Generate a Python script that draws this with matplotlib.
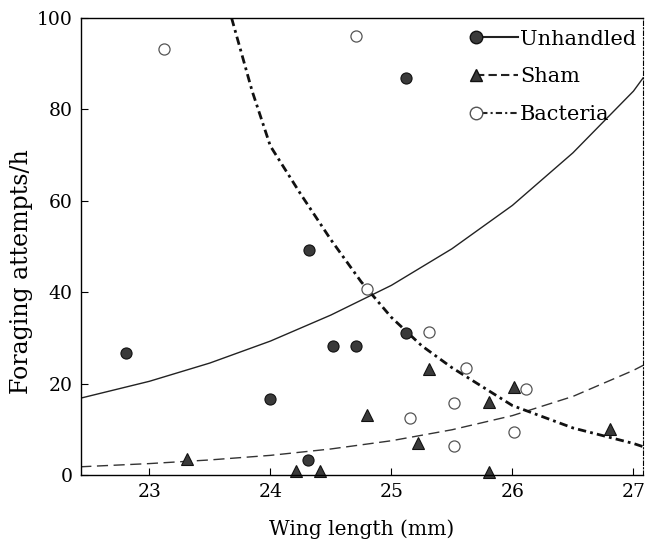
import matplotlib
matplotlib.use("Agg")
import matplotlib.pyplot as plt
from matplotlib.legend_handler import HandlerLine2D

# Observed foraging attempts per hour against wing length (mm)
unhandled_x = [22.81, 24.00, 24.32, 24.31, 24.52, 24.71, 25.12, 25.12]
unhandled_y = [26.8, 16.7, 49.3, 3.3, 28.2, 28.2, 31.0, 86.9]

sham_x = [23.31, 24.21, 24.41, 24.80, 25.22, 25.31, 25.81, 25.81, 26.01, 26.81]
sham_y = [3.6, 0.9, 0.9, 13.1, 7.1, 23.1, 16.0, 0.7, 19.2, 10.1]

bacteria_x = [23.12, 24.71, 24.80, 25.15, 25.31, 25.52, 25.52, 25.62, 26.01, 26.11]
bacteria_y = [93.2, 96.1, 40.6, 12.5, 31.2, 15.7, 6.4, 23.4, 9.5, 18.8]

# Fitted response curves, sampled along wing length
fit_x = [22.43, 23.0, 23.5, 24.0, 24.5, 25.0, 25.5, 26.0, 26.5, 27.0, 27.08]
unhandled_fit = [16.8, 20.5, 24.5, 29.3, 35.0, 41.5, 49.5, 59.0, 70.5, 84.0, 86.9]
sham_fit = [1.8, 2.5, 3.3, 4.3, 5.7, 7.5, 9.9, 13.0, 17.2, 22.9, 24.0]

bacteria_fit_x = [23.68, 23.85, 24.0, 24.25, 24.5, 24.75, 25.0, 25.25,
                  25.5, 26.0, 26.5, 27.0, 27.08]
bacteria_fit = [100.0, 84.0, 72.0, 61.5, 51.5, 42.3, 34.5, 28.3,
                23.5, 15.2, 10.3, 6.9, 6.2]

x_ticks = [23, 24, 25, 26, 27]
y_ticks = [0, 20, 40, 60, 80, 100]


class MarkerFirstHandler(HandlerLine2D):
    """Legend handle with the marker sitting at the left end of the line."""

    def create_artists(self, legend, orig_handle, xdescent, ydescent,
                       width, height, fontsize, trans):
        artists = super().create_artists(legend, orig_handle, xdescent,
                                         ydescent, width, height,
                                         fontsize, trans)
        artists[0].set_markevery([0])
        return artists


plt.rcParams['font.family'] = ['DejaVu Serif']
plt.rcParams['font.size'] = 13

fig = plt.figure(figsize=(6.46, 5.39), dpi=100)
ax = fig.add_axes([0.1254, 0.1187, 0.8696, 0.8479])

dark = '#3a3a3a'

ax.plot(fit_x, unhandled_fit, color='#222222', lw=1.0)
ax.plot(fit_x, sham_fit, color='#333333', lw=1.0, linestyle=(0, (8, 4)))
ax.plot(bacteria_fit_x, bacteria_fit, color='#111111', lw=2.0,
        linestyle=(0, (3, 1.5, 1, 1.5)))

ax.plot(unhandled_x, unhandled_y, 'o', ms=8, mfc=dark, mec='#111111',
        mew=0.8, clip_on=False)
ax.plot(sham_x, sham_y, '^', ms=8, mfc=dark, mec='#111111', mew=0.8,
        clip_on=False)
ax.plot(bacteria_x, bacteria_y, 'o', ms=8, mfc='white', mec='#555555',
        mew=0.9, clip_on=False)

# legend handles: marker followed by its fitted-line style
h_u = plt.Line2D([], [], color='#222222', lw=1.5, marker='o', ms=9,
                 mfc=dark, mec='#111111')
h_s = plt.Line2D([], [], color='#222222', lw=1.5, linestyle=(0, (4, 2)),
                 marker='^', ms=9, mfc=dark, mec='#111111')
h_b = plt.Line2D([], [], color='#222222', lw=1.5,
                 linestyle=(0, (1, 1.5, 3, 1.5)), marker='o', ms=9,
                 mfc='white', mec='#555555')
ax.legend([h_u, h_s, h_b], ['Unhandled', 'Sham', 'Bacteria'],
          loc='upper right', bbox_to_anchor=(1.003, 0.993), frameon=False,
          fontsize=15, handlelength=2.0, handletextpad=0.1,
          labelspacing=0.9, borderaxespad=0.0,
          handler_map={plt.Line2D: MarkerFirstHandler(numpoints=1)})

ax.set_xlim(22.436, 27.077)
ax.set_ylim(0, 100)
ax.set_xticks(x_ticks)
ax.set_yticks(y_ticks)
ax.tick_params(direction='in', length=5, width=0.8, labelsize=13.5, pad=6)

ax.spines['right'].set_linestyle((0, (4, 2, 1, 2)))
ax.spines['right'].set_linewidth(0.8)
for side in ('left', 'bottom', 'top'):
    ax.spines[side].set_linewidth(1.0)

ax.set_xlabel('Wing length (mm)', fontsize=14.5)
ax.set_ylabel('Foraging attempts/h', fontsize=17)
ax.xaxis.set_label_coords(0.5, -0.098)
ax.yaxis.set_label_coords(-0.086, 0.444)

fig.savefig('out.png', dpi=100)
